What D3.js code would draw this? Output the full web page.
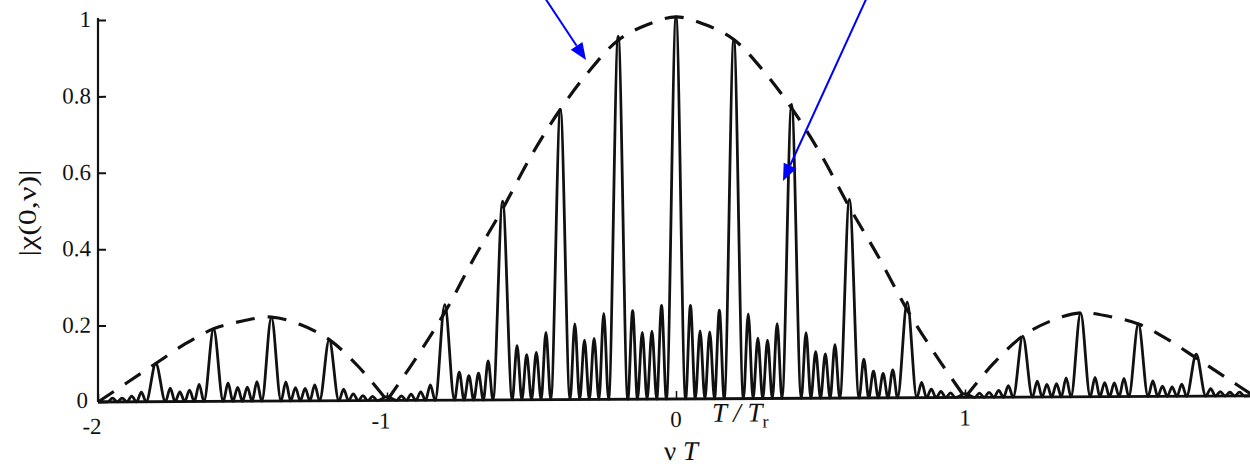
<!DOCTYPE html>
<html>
<head>
<meta charset="utf-8">
<script src="https://cdn.jsdelivr.net/npm/d3@7"></script>
<style>
  html, body { margin: 0; padding: 0; background: #fff; }
  svg { display: block; }
  text { font-family: "Liberation Serif", "DejaVu Serif", serif; fill: #111; }
</style>
</head>
<body>
<svg id="chart" width="1250" height="467"></svg>
<script>
// ---- data ----
const xTicks = [-2, -1, 0, 1, 2];
const xTickLabels = ["-2", "-1", "0", "1", ""];
const yTicks = [0, 0.2, 0.4, 0.6, 0.8, 1];
const yTickLabels = ["0", "0.2", "0.4", "0.6", "0.8", "1"];

// main (grating) peak positions in vT and their heights
const peakX = [-2.0, -1.8, -1.6, -1.4, -1.2, -1.0, -0.8, -0.6, -0.4, -0.2, 0.0,
               0.2, 0.4, 0.6, 0.8, 1.0, 1.2, 1.4, 1.6, 1.8, 2.0];
const peakY = [0.0, 0.10, 0.19, 0.22, 0.16, 0.01, 0.25, 0.52, 0.76, 0.95, 1.0,
               0.94, 0.77, 0.52, 0.25, 0.01, 0.16, 0.22, 0.19, 0.11, 0.0];

// four small sidelobes between each pair of neighbouring peaks (left to right)
const sidelobes = [
  [0.010, 0.010, 0.015, 0.025],
  [0.035, 0.025, 0.030, 0.045],
  [0.048, 0.036, 0.037, 0.051],
  [0.050, 0.035, 0.033, 0.042],
  [0.030, 0.018, 0.013, 0.011],
  [0.012, 0.016, 0.022, 0.040],
  [0.073, 0.064, 0.070, 0.102],
  [0.142, 0.118, 0.124, 0.176],
  [0.198, 0.155, 0.160, 0.225],
  [0.232, 0.175, 0.178, 0.245],
  [0.245, 0.178, 0.175, 0.232],
  [0.222, 0.158, 0.153, 0.196],
  [0.172, 0.122, 0.116, 0.140],
  [0.102, 0.070, 0.064, 0.073],
  [0.040, 0.022, 0.016, 0.012],
  [0.011, 0.013, 0.018, 0.030],
  [0.042, 0.033, 0.035, 0.050],
  [0.051, 0.037, 0.036, 0.048],
  [0.041, 0.027, 0.025, 0.032],
  [0.020, 0.012, 0.010, 0.010]
];

// dashed sinc-like envelope, read every 0.1 in vT
const envX = [-2.0, -1.9, -1.8, -1.7, -1.6, -1.5, -1.4, -1.3, -1.2, -1.1, -1.0,
              -0.9, -0.8, -0.7, -0.6, -0.5, -0.4, -0.3, -0.2, -0.1, 0.0,
              0.1, 0.2, 0.3, 0.4, 0.5, 0.6, 0.7, 0.8, 0.9, 1.0,
              1.1, 1.2, 1.3, 1.4, 1.5, 1.6, 1.7, 1.8, 1.9, 2.0];
const envY = [0.0, 0.05, 0.10, 0.15, 0.19, 0.21, 0.22, 0.20, 0.16, 0.09, 0.0,
              0.11, 0.23, 0.37, 0.50, 0.64, 0.76, 0.86, 0.94, 0.98, 1.0,
              0.98, 0.94, 0.86, 0.76, 0.64, 0.50, 0.37, 0.23, 0.11, 0.0,
              0.09, 0.16, 0.20, 0.22, 0.21, 0.19, 0.15, 0.10, 0.05, 0.0];

// ---- drawing ----
const svg = d3.select("#chart");
const x = d3.scaleLinear().domain([-2, 2]).range([98, 1254]);
const y = d3.scaleLinear().domain([0, 1]).range([402, 20]);

// the scanned figure is slightly sheared (baseline rises to the right)
const g = svg.append("g")
  .attr("transform", "translate(98,402) skewY(-0.3) translate(-98,-402)");

// solid curve points built from peaks and read sidelobes
const pts = [];
for (let k = 0; k < peakX.length; k++) {
  pts.push([peakX[k], peakY[k]]);
  if (k < peakX.length - 1) {
    const sub = (peakX[k + 1] - peakX[k]) / 6;
    pts.push([peakX[k] + sub, 0]);
    sidelobes[k].forEach((v, j) => {
      pts.push([peakX[k] + sub * (1.5 + j), v]);
      pts.push([peakX[k] + sub * (2 + j), 0]);
    });
  }
}

// axes
const yAxis = d3.axisRight(y).tickValues(yTicks.slice(1)).tickSize(8).tickFormat("");
const yAx = g.append("g").attr("transform", "translate(98,0)").call(yAxis);
yAx.select(".domain").attr("d", `M0,${y(1) - 2}V${y(0)}`).attr("stroke", "#111").attr("stroke-width", 2.2);
yAx.selectAll(".tick line").attr("stroke", "#111").attr("stroke-width", 2);

const xAxis = d3.axisTop(x).tickValues(xTicks).tickSize(8).tickFormat("");
const xAx = g.append("g").attr("transform", `translate(0,${y(0)})`).call(xAxis);
xAx.select(".domain").attr("d", `M98,0H1254`).attr("stroke", "#111").attr("stroke-width", 2.8);
xAx.selectAll(".tick line").attr("stroke", "#111").attr("stroke-width", 1.5);

// tick labels
g.selectAll(".ylab").data(yTicks).enter().append("text")
  .attr("class", "ylab")
  .attr("x", (d, i) => i === 0 ? 88 : 91)
  .attr("y", (d, i) => y(d) + (i === 0 ? 6 : 7))
  .attr("text-anchor", "end").attr("font-size", 23)
  .text((d, i) => yTickLabels[i]);

g.selectAll(".xlab").data(xTicks).enter().append("text")
  .attr("class", "xlab")
  .attr("x", (d, i) => x(d) - (xTickLabels[i].startsWith("-") ? 6 : 0))
  .attr("y", (d, i) => i === 0 ? 434 : 430)
  .attr("text-anchor", "middle").attr("font-size", 23)
  .text((d, i) => xTickLabels[i]);

// dashed envelope, one path per lobe
const lobes = [];
let cur = [];
envX.forEach((vx, i) => {
  cur.push([vx, envY[i]]);
  if (envY[i] === 0 && cur.length > 1) { lobes.push(cur); cur = [[vx, envY[i]]]; }
});
const envLine = d3.line().x(d => x(d[0])).y(d => y(d[1])).curve(d3.curveCatmullRom.alpha(0.5));
g.selectAll(".env").data(lobes).enter().append("path")
  .attr("class", "env")
  .attr("d", envLine)
  .attr("fill", "none").attr("stroke", "#111")
  .attr("stroke-width", 3.2).attr("stroke-dasharray", "19,13");

// solid response
const line = d3.line().x(d => x(d[0])).y(d => y(d[1])).curve(d3.curveMonotoneX);
g.append("path").datum(pts)
  .attr("d", line)
  .attr("fill", "none").attr("stroke", "#111")
  .attr("stroke-width", 2.8).attr("stroke-linejoin", "round");

// axis titles
const ttl = g.append("text").attr("x", 712).attr("y", 425).attr("font-size", 27).attr("font-style", "italic");
ttl.append("tspan").text("T / T");
ttl.append("tspan").attr("font-size", 18).attr("dy", 6).attr("font-style", "normal").text("r");

const xt = g.append("text").attr("x", 681).attr("y", 463).attr("text-anchor", "middle").attr("font-size", 27);
xt.append("tspan").text("ν ");
xt.append("tspan").attr("font-style", "italic").text("T");

svg.append("text")
  .attr("transform", "translate(36,213) rotate(-90)")
  .attr("text-anchor", "middle").attr("font-size", 25)
  .attr("textLength", 87).attr("lengthAdjust", "spacingAndGlyphs")
  .text("|χ(0,ν)|");

// blue annotation arrows
const arrows = [
  { x1: 543, y1: -5, x2: 586, y2: 60 },
  { x1: 868, y1: -5, x2: 783, y2: 181 }
];
arrows.forEach(a => {
  const ang = Math.atan2(a.y2 - a.y1, a.x2 - a.x1);
  const L = 17, W = 7;
  const bx = a.x2 - L * Math.cos(ang), by = a.y2 - L * Math.sin(ang);
  svg.append("line")
    .attr("x1", a.x1).attr("y1", a.y1).attr("x2", bx).attr("y2", by)
    .attr("stroke", "#0000ff").attr("stroke-width", 2);
  const p1 = [bx + W * Math.sin(ang), by - W * Math.cos(ang)];
  const p2 = [bx - W * Math.sin(ang), by + W * Math.cos(ang)];
  svg.append("polygon")
    .attr("points", [[a.x2, a.y2], p1, p2].map(p => p.join(",")).join(" "))
    .attr("fill", "#0000ff");
});
</script>
</body>
</html>
